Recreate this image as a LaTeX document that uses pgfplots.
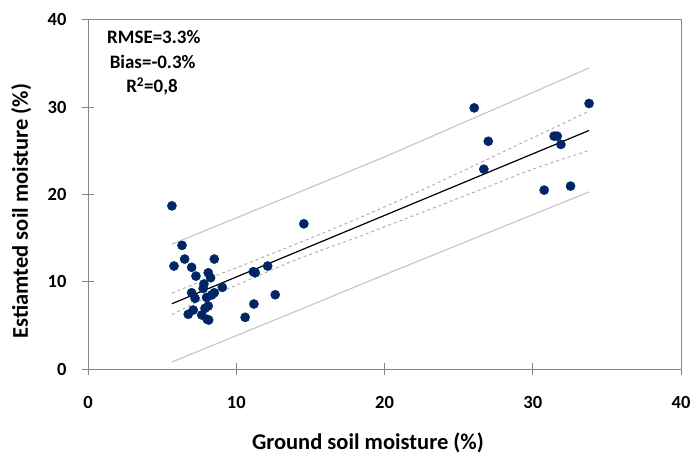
\documentclass[border=0pt]{standalone}
\usepackage{fontspec}
\setmainfont{Carlito}
\usepackage{pgfplots}
\pgfplotsset{compat=1.18}
\usetikzlibrary{calc}

\definecolor{dotblue}{RGB}{0,38,100}
\definecolor{axisgray}{RGB}{134,134,134}
\definecolor{predgray}{RGB}{200,200,200}
\definecolor{confgray}{RGB}{170,170,170}

\begin{document}
\begin{tikzpicture}
\begin{axis}[
    scale only axis,
    width=593pt, height=349pt,
    xmin=0, xmax=40, ymin=0, ymax=40,
    xtick={0,10,20,30,40}, ytick={0,10,20,30,40},
    tick pos=left,
    tick align=center,
    major tick length=12pt,
    axis line style={axisgray, line width=1pt},
    tick style={axisgray, line width=1pt},
    ticklabel style={font=\fontsize{18.5}{22}\selectfont\bfseries},
    /pgf/number format/assume math mode=true,
    xticklabel style={anchor=base, yshift=-33pt},
    yticklabel style={anchor=east, xshift=-12pt},
    xlabel={Ground soil moisture (\%)},
    ylabel={Estiamted soil moisture (\%)},
    every axis x label/.style={at={(axis description cs:0.472,-0.232)}, anchor=base,
        font=\fontsize{22.5}{27}\selectfont\bfseries},
    every axis y label/.style={at={(axis description cs:-0.1012,0.453)}, rotate=90, anchor=base,
        font=\fontsize{22.5}{27}\selectfont\bfseries},
    clip=false,
]
% prediction interval
\addplot[predgray, line width=1.2pt] coordinates {(5.66,14.3) (14,20.1) (20,24.3) (33.8,34.5)};
\addplot[predgray, line width=1.2pt] coordinates {(5.66,0.8) (14,6.6) (20,10.8) (33.8,20.3)};
% confidence interval
\addplot[confgray, dashed, line width=0.9pt, smooth] coordinates {
(5.66,8.68) (8,10.3) (10,11.6) (14,14.3) (18,17.1) (22,20.1) (26.4,23.6) (30,26.5) (33.8,29.55)};
\addplot[confgray, dashed, line width=0.9pt, smooth] coordinates {
(5.66,6.24) (8,8.2) (10,9.6) (14,12.5) (18,15.0) (22,17.6) (26.4,20.5) (30,22.9) (33.8,25.05)};
% regression line
\addplot[black, line width=1.2pt] coordinates {(5.66,7.48) (33.8,27.34)};
% observations
\addplot[only marks, mark=*, mark size=4.6pt, color=dotblue, mark options={fill=dotblue, draw=dotblue}] coordinates {
(5.66,18.7) (6.34,14.17) (14.56,16.64) (5.8,11.8) (6.52,12.6) (8.52,12.6)
(6.99,11.65) (7.28,10.65) (8.11,11.03) (8.27,10.46) (11.15,11.15) (11.28,11.03)
(12.12,11.8) (7.82,9.74) (7.77,9.24) (6.99,8.74) (9.06,9.36) (8.52,8.74)
(8.34,8.48) (7.22,8.1) (8.0,8.2) (8.11,7.22) (7.89,6.95) (7.1,6.76)
(6.76,6.27) (7.67,6.19) (8.04,5.69) (8.14,5.61) (12.63,8.51) (11.19,7.45)
(10.6,5.92)
(26.05,29.93) (33.8,30.43) (27.0,26.1) (26.7,22.9) (31.44,26.69) (31.65,26.69)
(31.9,25.74) (30.77,20.5) (32.55,20.96)
};
\node[anchor=base, font=\fontsize{19}{22}\selectfont\bfseries] at (rel axis cs:0.111,0.934) {RMSE=3.3\%};
\node[anchor=base, font=\fontsize{19}{22}\selectfont\bfseries] at (rel axis cs:0.109,0.862) {Bias=-0.3\%};
\node[anchor=base, font=\fontsize{19}{22}\selectfont\bfseries] at (rel axis cs:0.108,0.791) {R\textsuperscript{2}=0,8};
\end{axis}
\pgfresetboundingbox
\path[use as bounding box] ($(current axis.south west)+(-88pt,-88pt)$) rectangle ($(current axis.north east)+(11pt,20pt)$);
\end{tikzpicture}
\end{document}
